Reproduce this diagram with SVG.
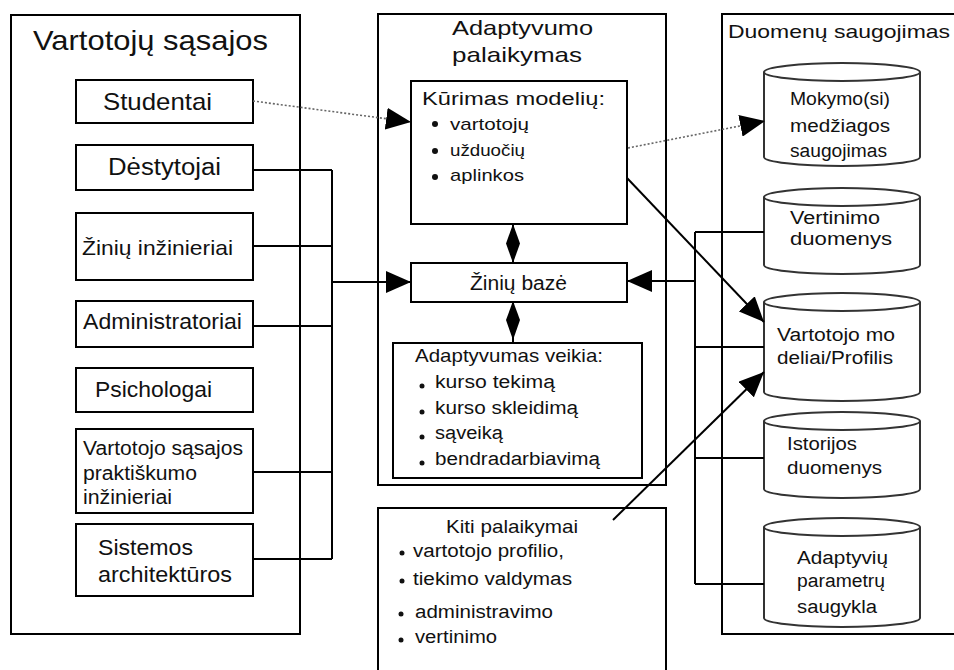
<svg xmlns="http://www.w3.org/2000/svg" width="954" height="670" viewBox="0 0 954 670">
<style>
  .frame{fill:none;stroke:#000;stroke-width:2}
  .box{fill:#fff;stroke:#000;stroke-width:2}
  .cyl{fill:#fff;stroke:#333;stroke-width:2}
  .t{font-family:"Liberation Sans",Arial,sans-serif;fill:#111}
  .l{font-size:22px}
  .m{font-size:18px}
  .c{font-size:17px}
  .wire{fill:none;stroke:#000;stroke-width:2}
  .dot{fill:none;stroke:#666;stroke-width:1.6;stroke-dasharray:2 2}
  .bul{fill:#111}
</style>
<defs>
  <marker id="arr" viewBox="0 0 25 22" refX="25" refY="11" markerWidth="25" markerHeight="22" markerUnits="userSpaceOnUse" orient="auto">
    <path d="M0,0 L25,11 L0,22 z" fill="#000"/>
  </marker>
</defs>
<rect width="954" height="670" fill="#fff"/>

<g id="user-interfaces">
  <rect class="frame" x="11" y="15" width="289" height="619"/>
  <text class="t" x="33" y="50" font-size="28" textLength="235" lengthAdjust="spacingAndGlyphs">Vartotojų sąsajos</text>
</g>
<g id="studentai">
  <rect class="box" x="76" y="80" width="177" height="43"/>
  <text class="t" x="103" y="110" font-size="24" textLength="109" lengthAdjust="spacingAndGlyphs">Studentai</text>
</g>
<g id="destytojai">
  <rect class="box" x="76" y="145" width="177" height="45"/>
  <text class="t" x="108" y="175" font-size="23" textLength="113" lengthAdjust="spacingAndGlyphs">Dėstytojai</text>
</g>
<g id="ziniu-inzinieriai">
  <rect class="box" x="76" y="213" width="177" height="67"/>
  <text class="t" x="82" y="255" font-size="21" textLength="151" lengthAdjust="spacingAndGlyphs">Žinių inžinieriai</text>
</g>
<g id="administratoriai">
  <rect class="box" x="76" y="301" width="177" height="46"/>
  <text class="t l" x="83" y="329" textLength="159" lengthAdjust="spacingAndGlyphs">Administratoriai</text>
</g>
<g id="psichologai">
  <rect class="box" x="76" y="368" width="177" height="44"/>
  <text class="t l" x="95" y="397" textLength="117" lengthAdjust="spacingAndGlyphs">Psichologai</text>
</g>
<g id="praktiskumo-inzinieriai">
  <rect class="box" x="76" y="429" width="177" height="84"/>
  <text class="t" font-size="20" x="83" y="455" textLength="160" lengthAdjust="spacingAndGlyphs">Vartotojo sąsajos</text>
  <text class="t" font-size="20" x="83" y="480" textLength="114" lengthAdjust="spacingAndGlyphs">praktiškumo</text>
  <text class="t" font-size="20" x="83" y="504" textLength="89" lengthAdjust="spacingAndGlyphs">inžinieriai</text>
</g>
<g id="sistemos-architekturos">
  <rect class="box" x="76" y="524" width="177" height="72"/>
  <text class="t l" x="98" y="555" textLength="95" lengthAdjust="spacingAndGlyphs">Sistemos</text>
  <text class="t l" x="98" y="582" textLength="134" lengthAdjust="spacingAndGlyphs">architektūros</text>
</g>

<g id="adaptyvumo-palaikymas">
  <rect class="frame" x="378" y="14" width="288" height="471"/>
  <text class="t" font-size="21" x="452" y="35" textLength="141" lengthAdjust="spacingAndGlyphs">Adaptyvumo</text>
  <text class="t" font-size="21" x="452" y="62" textLength="130" lengthAdjust="spacingAndGlyphs">palaikymas</text>
</g>
<g id="kurimas-modeliu">
  <rect class="box" x="411" y="81" width="216" height="143"/>
  <text class="t m" x="422" y="105" textLength="183" lengthAdjust="spacingAndGlyphs">Kūrimas modelių:</text>
  <circle class="bul" cx="435" cy="124" r="3"/>
  <text class="t" font-size="17" x="450" y="130" textLength="79" lengthAdjust="spacingAndGlyphs">vartotojų</text>
  <circle class="bul" cx="435" cy="151" r="3"/>
  <text class="t" font-size="17" x="450" y="156" textLength="75" lengthAdjust="spacingAndGlyphs">užduočių</text>
  <circle class="bul" cx="435" cy="177" r="3"/>
  <text class="t" font-size="17" x="450" y="181" textLength="74" lengthAdjust="spacingAndGlyphs">aplinkos</text>
</g>
<g id="ziniu-baze">
  <rect class="box" x="411" y="263" width="216" height="39"/>
  <text class="t" font-size="20" x="470" y="290" textLength="97" lengthAdjust="spacingAndGlyphs">Žinių bazė</text>
</g>
<g id="adaptyvumas-veikia">
  <rect class="box" x="393" y="343" width="249" height="135"/>
  <text class="t" font-size="19" x="415" y="362" textLength="188" lengthAdjust="spacingAndGlyphs">Adaptyvumas veikia:</text>
  <circle class="bul" cx="422" cy="386" r="2.5"/>
  <text class="t m" x="435" y="388" textLength="120" lengthAdjust="spacingAndGlyphs">kurso tekimą</text>
  <circle class="bul" cx="422" cy="412" r="2.5"/>
  <text class="t m" x="435" y="414" textLength="143" lengthAdjust="spacingAndGlyphs">kurso skleidimą</text>
  <circle class="bul" cx="422" cy="437" r="2.5"/>
  <text class="t m" x="435" y="439" textLength="68" lengthAdjust="spacingAndGlyphs">sąveiką</text>
  <circle class="bul" cx="422" cy="463" r="2.5"/>
  <text class="t m" x="435" y="465" textLength="165" lengthAdjust="spacingAndGlyphs">bendradarbiavimą</text>
</g>
<g id="kiti-palaikymai">
  <rect class="box" x="378" y="508" width="288" height="180"/>
  <text class="t" font-size="19" x="446" y="533" textLength="132" lengthAdjust="spacingAndGlyphs">Kiti palaikymai</text>
  <circle class="bul" cx="402" cy="553" r="2.5"/>
  <text class="t m" x="413" y="557" textLength="151" lengthAdjust="spacingAndGlyphs">vartotojo profilio,</text>
  <circle class="bul" cx="402" cy="581" r="2.5"/>
  <text class="t m" x="413" y="585" textLength="159" lengthAdjust="spacingAndGlyphs">tiekimo valdymas</text>
  <circle class="bul" cx="401" cy="614" r="2.5"/>
  <text class="t m" x="415" y="618" textLength="138" lengthAdjust="spacingAndGlyphs">administravimo</text>
  <circle class="bul" cx="401" cy="640" r="2.5"/>
  <text class="t m" x="415" y="643" textLength="82" lengthAdjust="spacingAndGlyphs">vertinimo</text>
</g>

<g id="duomenu-saugojimas">
  <rect class="frame" x="722" y="14" width="240" height="620"/>
  <text class="t" font-size="19" x="728" y="38" textLength="222" lengthAdjust="spacingAndGlyphs">Duomenų saugojimas</text>
</g>
<g id="mokymo-medziagos">
  <path class="cyl" d="M764,72 L764,157 A78,9 0 0 0 920,157 L920,72"/>
  <ellipse class="cyl" cx="842" cy="72" rx="78" ry="9"/>
  <text class="t m" x="790" y="105" textLength="100" lengthAdjust="spacingAndGlyphs">Mokymo(si)</text>
  <text class="t m" x="790" y="132" textLength="100" lengthAdjust="spacingAndGlyphs">medžiagos</text>
  <text class="t m" x="790" y="157" textLength="97" lengthAdjust="spacingAndGlyphs">saugojimas</text>
</g>
<g id="vertinimo-duomenys">
  <path class="cyl" d="M764,197 L764,265 A78,9 0 0 0 920,265 L920,197"/>
  <ellipse class="cyl" cx="842" cy="197" rx="78" ry="9"/>
  <text class="t m" x="790" y="224" textLength="90" lengthAdjust="spacingAndGlyphs">Vertinimo</text>
  <text class="t m" x="790" y="245" textLength="102" lengthAdjust="spacingAndGlyphs">duomenys</text>
</g>
<g id="vartotojo-modeliai">
  <path class="cyl" d="M764,302 L764,392 A78,9 0 0 0 920,392 L920,302"/>
  <ellipse class="cyl" cx="842" cy="302" rx="78" ry="9"/>
  <text class="t m" x="777" y="341" textLength="118" lengthAdjust="spacingAndGlyphs">Vartotojo mo</text>
  <text class="t m" x="777" y="364" textLength="116" lengthAdjust="spacingAndGlyphs">deliai/Profilis</text>
</g>
<g id="istorijos-duomenys">
  <path class="cyl" d="M764,421 L764,489 A78,9 0 0 0 920,489 L920,421"/>
  <ellipse class="cyl" cx="842" cy="421" rx="78" ry="9"/>
  <text class="t m" x="787" y="450" textLength="70" lengthAdjust="spacingAndGlyphs">Istorijos</text>
  <text class="t m" x="787" y="474" textLength="95" lengthAdjust="spacingAndGlyphs">duomenys</text>
</g>
<g id="adaptyviu-parametru">
  <path class="cyl" d="M764,527 L764,618 A78,9 0 0 0 920,618 L920,527"/>
  <ellipse class="cyl" cx="842" cy="527" rx="78" ry="9"/>
  <text class="t m" x="797" y="564" textLength="91" lengthAdjust="spacingAndGlyphs">Adaptyvių</text>
  <text class="t m" x="797" y="587" textLength="88" lengthAdjust="spacingAndGlyphs">parametrų</text>
  <text class="t m" x="797" y="613" textLength="80" lengthAdjust="spacingAndGlyphs">saugykla</text>
</g>

<g id="connectors">
  <!-- left bus -->
  <path class="wire" d="M332,170 L332,559"/>
  <path class="wire" d="M253,170 H332 M253,246 H332 M253,326 H332 M253,472 H332 M253,559 H332"/>
  <path class="wire" d="M332,282 H411" marker-end="url(#arr)"/>
  <!-- right bus -->
  <path class="wire" d="M695,232 L695,584"/>
  <path class="wire" d="M695,232 H764 M695,347 H764 M695,458 H764 M695,584 H764"/>
  <path class="wire" d="M695,281 H627" marker-end="url(#arr)"/>
  <!-- vertical double arrows -->
  <path class="wire" d="M513,224 V263 M513,302 V343"/>
  <polygon points="513,224 520,243.5 513,263 506,243.5" fill="#000"/>
  <polygon points="513,301 520,320 513,340 506,320" fill="#000"/>
  <!-- dotted arrows -->
  <path class="dot" d="M253,101 L411,122" marker-end="url(#arr)"/>
  <path class="dot" d="M628,148 L765,121" marker-end="url(#arr)"/>
  <!-- diagonal arrows to user model -->
  <path class="wire" stroke-width="1.6" d="M627,178 L764,322" marker-end="url(#arr)"/>
  <path class="wire" stroke-width="1.6" d="M613,520 L764,372" marker-end="url(#arr)"/>
</g>
</svg>
